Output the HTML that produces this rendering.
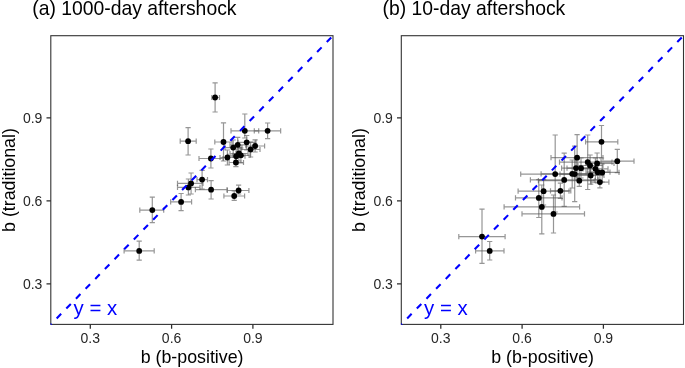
<!DOCTYPE html>
<html><head><meta charset="utf-8"><style>
html,body{margin:0;padding:0;background:#fff;}
svg{display:block;will-change:transform;}
text{font-family:"Liberation Sans",sans-serif;}
.ttl{font-size:19.35px;fill:#000;}
.tk{font-size:14px;fill:#262626;}
.ax{font-size:17.8px;fill:#000;}
.yx{font-size:20.4px;fill:#0000ff;}
</style></head><body>
<svg width="685" height="368" viewBox="0 0 685 368">
<rect width="685" height="368" fill="#fff"/>
<text x="32.2" y="15.0" class="ttl">(a) 1000-day aftershock</text>
<g stroke="#555" stroke-opacity="0.62" stroke-width="1.2" fill="none">
<path d="M211.8 97.5H219.5M211.8 94.9V100.1M219.5 94.9V100.1M215.1 82.8V112M212.5 82.8H217.7M212.5 112H217.7"/>
<path d="M124.1 250.9H154.2M124.1 248.3V253.5M154.2 248.3V253.5M139.2 241.2V260.2M136.6 241.2H141.8M136.6 260.2H141.8"/>
<path d="M139.8 210.1H163.7M139.8 207.5V212.7M163.7 207.5V212.7M152.3 197.1V222.6M149.7 197.1H154.9M149.7 222.6H154.9"/>
<path d="M170.65 201.9H191.6M170.65 199.3V204.5M191.6 199.3V204.5M181.1 193.5V210.6M178.5 193.5H183.7M178.5 210.6H183.7"/>
<path d="M177.5 183.4H203M177.5 180.8V186M203 180.8V186M191.1 173V194M188.5 173H193.7M188.5 194H193.7"/>
<path d="M177.5 187.4H200M177.5 184.8V190M200 184.8V190M188.4 179V195M185.8 179H191M185.8 195H191"/>
<path d="M197 179.6H207.5M197 177V182.2M207.5 177V182.2M202.1 170.4V189M199.5 170.4H204.7M199.5 189H204.7"/>
<path d="M195.4 189.7H227.1M195.4 187.1V192.3M227.1 187.1V192.3M211.1 180.7V199M208.5 180.7H213.7M208.5 199H213.7"/>
<path d="M199 158.5H223M199 155.9V161.1M223 155.9V161.1M210.9 149V168M208.3 149H213.5M208.3 168H213.5"/>
<path d="M180.2 141.2H196.2M180.2 138.6V143.8M196.2 138.6V143.8M188.1 127.6V155M185.5 127.6H190.7M185.5 155H190.7"/>
<path d="M214.8 142H232M214.8 139.4V144.6M232 139.4V144.6M223.5 122.8V161M220.9 122.8H226.1M220.9 161H226.1"/>
<path d="M231 130.8H258.7M231 128.2V133.4M258.7 128.2V133.4M244.8 114V138M242.2 114H247.4M242.2 138H247.4"/>
<path d="M254.3 130.8H280.65M254.3 128.2V133.4M280.65 128.2V133.4M267.6 123V138.6M265 123H270.2M265 138.6H270.2"/>
<path d="M238 142.3H256M238 139.7V144.9M256 139.7V144.9M246.7 135.5V150M244.1 135.5H249.3M244.1 150H249.3"/>
<path d="M230 144.8H246M230 142.2V147.4M246 142.2V147.4M237.7 137.3V152M235.1 137.3H240.3M235.1 152H240.3"/>
<path d="M225 147.6H242M225 145V150.2M242 145V150.2M233.2 140V155M230.6 140H235.8M230.6 155H235.8"/>
<path d="M246 146H264.6M246 143.4V148.6M264.6 143.4V148.6M255.1 139.8V152M252.5 139.8H257.7M252.5 152H257.7"/>
<path d="M241 149.5H260M241 146.9V152.1M260 146.9V152.1M250.6 142V157M248 142H253.2M248 157H253.2"/>
<path d="M220 157.5H236M220 154.9V160.1M236 154.9V160.1M227.4 150V165M224.8 150H230M224.8 165H230"/>
<path d="M228 156.2H245M228 153.6V158.8M245 153.6V158.8M236.2 149V164M233.6 149H238.8M233.6 164H238.8"/>
<path d="M230 153.5H248M230 150.9V156.1M248 150.9V156.1M238.9 146V161M236.3 146H241.5M236.3 161H241.5"/>
<path d="M233 155.3H250M233 152.7V157.9M250 152.7V157.9M240.9 148V163M238.3 148H243.5M238.3 163H243.5"/>
<path d="M229.1 162.5H243.5M229.1 159.9V165.1M243.5 159.9V165.1M235.9 157V166.7M233.3 157H238.5M233.3 166.7H238.5"/>
<path d="M227.3 190.5H248.9M227.3 187.9V193.1M248.9 187.9V193.1M238.6 185.1V194M236 185.1H241.2M236 194H241.2"/>
<path d="M223.9 196H244.6M223.9 193.4V198.6M244.6 193.4V198.6M234.2 191V200.4M231.6 191H236.8M231.6 200.4H236.8"/>
</g>
<g fill="#000">
<circle cx="215.1" cy="97.5" r="2.9"/>
<circle cx="139.2" cy="250.9" r="2.9"/>
<circle cx="152.3" cy="210.1" r="2.9"/>
<circle cx="181.1" cy="201.9" r="2.9"/>
<circle cx="191.1" cy="183.4" r="2.9"/>
<circle cx="188.4" cy="187.4" r="2.9"/>
<circle cx="202.1" cy="179.6" r="2.9"/>
<circle cx="211.1" cy="189.7" r="2.9"/>
<circle cx="210.9" cy="158.5" r="2.9"/>
<circle cx="188.1" cy="141.2" r="2.9"/>
<circle cx="223.5" cy="142" r="2.9"/>
<circle cx="244.8" cy="130.8" r="2.9"/>
<circle cx="267.6" cy="130.8" r="2.9"/>
<circle cx="246.7" cy="142.3" r="2.9"/>
<circle cx="237.7" cy="144.8" r="2.9"/>
<circle cx="233.2" cy="147.6" r="2.9"/>
<circle cx="255.1" cy="146" r="2.9"/>
<circle cx="250.6" cy="149.5" r="2.9"/>
<circle cx="227.4" cy="157.5" r="2.9"/>
<circle cx="236.2" cy="156.2" r="2.9"/>
<circle cx="238.9" cy="153.5" r="2.9"/>
<circle cx="240.9" cy="155.3" r="2.9"/>
<circle cx="235.9" cy="162.5" r="2.9"/>
<circle cx="238.6" cy="190.5" r="2.9"/>
<circle cx="234.2" cy="196" r="2.9"/>
</g>
<text x="73.6" y="314.8" class="yx">y = x</text>
<rect x="50.8" y="35.7" width="282.2" height="288.7" fill="none" stroke="#333" stroke-width="1.1"/>
<clipPath id="c0"><rect x="50.25" y="35.150000000000006" width="283.3" height="289.8"/></clipPath>
<line x1="50.8" y1="324.4" x2="333.0" y2="35.7" stroke="#0000ff" stroke-width="2.1" stroke-dasharray="6.4 7.4" stroke-dashoffset="5.4" clip-path="url(#c0)"/>
<path d="M90.3 324.4V328.7M171.6 324.4V328.7M252.9 324.4V328.7M50.8 283.9H46.5M50.8 200.8H46.5M50.8 117.8H46.5" stroke="#2b2b2b" stroke-width="1.25"/>
<text x="90.3" y="342.6" class="tk" text-anchor="middle">0.3</text>
<text x="171.6" y="342.6" class="tk" text-anchor="middle">0.6</text>
<text x="252.9" y="342.6" class="tk" text-anchor="middle">0.9</text>
<text x="42.4" y="288.79999999999995" class="tk" text-anchor="end">0.3</text>
<text x="42.4" y="205.70000000000002" class="tk" text-anchor="end">0.6</text>
<text x="42.4" y="122.7" class="tk" text-anchor="end">0.9</text>
<text x="192.1" y="362.8" class="ax" text-anchor="middle">b (b-positive)</text>
<text transform="translate(14.8 180.0) rotate(-90)" class="ax" text-anchor="middle">b (traditional)</text>
<text x="382.48969999999997" y="15.0" class="ttl">(b) 10-day aftershock</text>
<g stroke="#555" stroke-opacity="0.62" stroke-width="1.2" fill="none">
<path d="M458.8 236.6H505.1M458.8 234V239.2M505.1 234V239.2M482 209.1V263.4M479.4 209.1H484.6M479.4 263.4H484.6"/>
<path d="M475.6 250.9H504M475.6 248.3V253.5M504 248.3V253.5M489.7 241.5V260M487.1 241.5H492.3M487.1 260H492.3"/>
<path d="M515.5 197.9H562M515.5 195.3V200.5M562 195.3V200.5M538.8 179.6V217.5M536.2 179.6H541.4M536.2 217.5H541.4"/>
<path d="M504.1 206.9H579.6M504.1 204.3V209.5M579.6 204.3V209.5M541.8 185V233.8M539.2 185H544.4M539.2 233.8H544.4"/>
<path d="M518.1 191.2H569M518.1 188.6V193.8M569 188.6V193.8M543.6 179.6V205M541 179.6H546.2M541 205H546.2"/>
<path d="M522 213.9H584.5M522 211.3V216.5M584.5 211.3V216.5M553.5 195V233M550.9 195H556.1M550.9 233H556.1"/>
<path d="M520.7 174.1H590M520.7 171.5V176.7M590 171.5V176.7M555.2 135V212M552.6 135H557.8M552.6 212H557.8"/>
<path d="M550.5 190.8H570.8M550.5 188.2V193.4M570.8 188.2V193.4M560.4 183.1V198.3M557.8 183.1H563M557.8 198.3H563"/>
<path d="M530.4 179.9H598M530.4 177.3V182.5M598 177.3V182.5M564.2 153.2V206.4M561.6 153.2H566.8M561.6 206.4H566.8"/>
<path d="M541.1 173.8H603M541.1 171.2V176.4M603 171.2V176.4M572.2 160V188M569.6 160H574.8M569.6 188H574.8"/>
<path d="M551 157.7H603M551 155.1V160.3M603 155.1V160.3M577.1 134.7V180M574.5 134.7H579.7M574.5 180H579.7"/>
<path d="M561.6 168.1H590M561.6 165.5V170.7M590 165.5V170.7M576 158V178M573.4 158H578.6M573.4 178H578.6"/>
<path d="M538.4 180.7H595M538.4 178.1V183.3M595 178.1V183.3M579.3 168V186.4M576.7 168H581.9M576.7 186.4H581.9"/>
<path d="M567 168.2H595M567 165.6V170.8M595 165.6V170.8M581 158V178M578.4 158H583.6M578.4 178H583.6"/>
<path d="M559.5 162.1H612M559.5 159.5V164.7M612 159.5V164.7M587.7 135V189.5M585.1 135H590.3M585.1 189.5H590.3"/>
<path d="M578 165.5H603M578 162.9V168.1M603 162.9V168.1M590.1 155V177M587.5 155H592.7M587.5 177H592.7"/>
<path d="M586 163.4H614M586 160.8V166M614 160.8V166M597.1 153V175M594.5 153H599.7M594.5 175H599.7"/>
<path d="M583 168.8H608M583 166.2V171.4M608 166.2V171.4M595.4 158V180M592.8 158H598M592.8 180H598"/>
<path d="M586 172.2H610M586 169.6V174.8M610 169.6V174.8M597.8 162V183M595.2 162H600.4M595.2 183H600.4"/>
<path d="M590 172.4H619M590 169.8V175M619 169.8V175M602.2 164V182M599.6 164H604.8M599.6 182H604.8"/>
<path d="M578 175.5H604M578 172.9V178.1M604 172.9V178.1M590.7 166V184.2M588.1 166H593.3M588.1 184.2H593.3"/>
<path d="M591 182.1H608.9M591 179.5V184.7M608.9 179.5V184.7M599.9 174V187.8M597.3 174H602.5M597.3 187.8H602.5"/>
<path d="M585.6 141.8H617.8M585.6 139.2V144.4M617.8 139.2V144.4M601.5 125.5V158M598.9 125.5H604.1M598.9 158H604.1"/>
<path d="M601 161.2H634M601 158.6V163.8M634 158.6V163.8M617.3 149.4V172.7M614.7 149.4H619.9M614.7 172.7H619.9"/>
<path d="M560 174.1H590M560 171.5V176.7M590 171.5V176.7M574.7 146.1V201.6M572.1 146.1H577.3M572.1 201.6H577.3"/>
</g>
<g fill="#000">
<circle cx="482" cy="236.6" r="2.9"/>
<circle cx="489.7" cy="250.9" r="2.9"/>
<circle cx="538.8" cy="197.9" r="2.9"/>
<circle cx="541.8" cy="206.9" r="2.9"/>
<circle cx="543.6" cy="191.2" r="2.9"/>
<circle cx="553.5" cy="213.9" r="2.9"/>
<circle cx="555.2" cy="174.1" r="2.9"/>
<circle cx="560.4" cy="190.8" r="2.9"/>
<circle cx="564.2" cy="179.9" r="2.9"/>
<circle cx="572.2" cy="173.8" r="2.9"/>
<circle cx="577.1" cy="157.7" r="2.9"/>
<circle cx="576" cy="168.1" r="2.9"/>
<circle cx="579.3" cy="180.7" r="2.9"/>
<circle cx="581" cy="168.2" r="2.9"/>
<circle cx="587.7" cy="162.1" r="2.9"/>
<circle cx="590.1" cy="165.5" r="2.9"/>
<circle cx="597.1" cy="163.4" r="2.9"/>
<circle cx="595.4" cy="168.8" r="2.9"/>
<circle cx="597.8" cy="172.2" r="2.9"/>
<circle cx="602.2" cy="172.4" r="2.9"/>
<circle cx="590.7" cy="175.5" r="2.9"/>
<circle cx="599.9" cy="182.1" r="2.9"/>
<circle cx="601.5" cy="141.8" r="2.9"/>
<circle cx="617.3" cy="161.2" r="2.9"/>
<circle cx="574.7" cy="174.1" r="2.9"/>
</g>
<text x="424.1" y="314.8" class="yx">y = x</text>
<rect x="401.3" y="35.7" width="282.2" height="288.7" fill="none" stroke="#333" stroke-width="1.1"/>
<clipPath id="c350"><rect x="400.75" y="35.150000000000006" width="283.3" height="289.8"/></clipPath>
<line x1="401.3" y1="324.4" x2="683.5" y2="35.7" stroke="#0000ff" stroke-width="2.1" stroke-dasharray="6.4 7.4" stroke-dashoffset="5.4" clip-path="url(#c350)"/>
<path d="M440.8 324.4V328.7M522.1 324.4V328.7M603.4 324.4V328.7M401.3 283.9H397.0M401.3 200.8H397.0M401.3 117.8H397.0" stroke="#2b2b2b" stroke-width="1.25"/>
<text x="440.8" y="342.6" class="tk" text-anchor="middle">0.3</text>
<text x="522.1" y="342.6" class="tk" text-anchor="middle">0.6</text>
<text x="603.4" y="342.6" class="tk" text-anchor="middle">0.9</text>
<text x="392.90000000000003" y="288.79999999999995" class="tk" text-anchor="end">0.3</text>
<text x="392.90000000000003" y="205.70000000000002" class="tk" text-anchor="end">0.6</text>
<text x="392.90000000000003" y="122.7" class="tk" text-anchor="end">0.9</text>
<text x="542.6" y="362.8" class="ax" text-anchor="middle">b (b-positive)</text>
<text transform="translate(364.70415 180.0) rotate(-90)" class="ax" text-anchor="middle">b (traditional)</text>
</svg>
</body></html>
